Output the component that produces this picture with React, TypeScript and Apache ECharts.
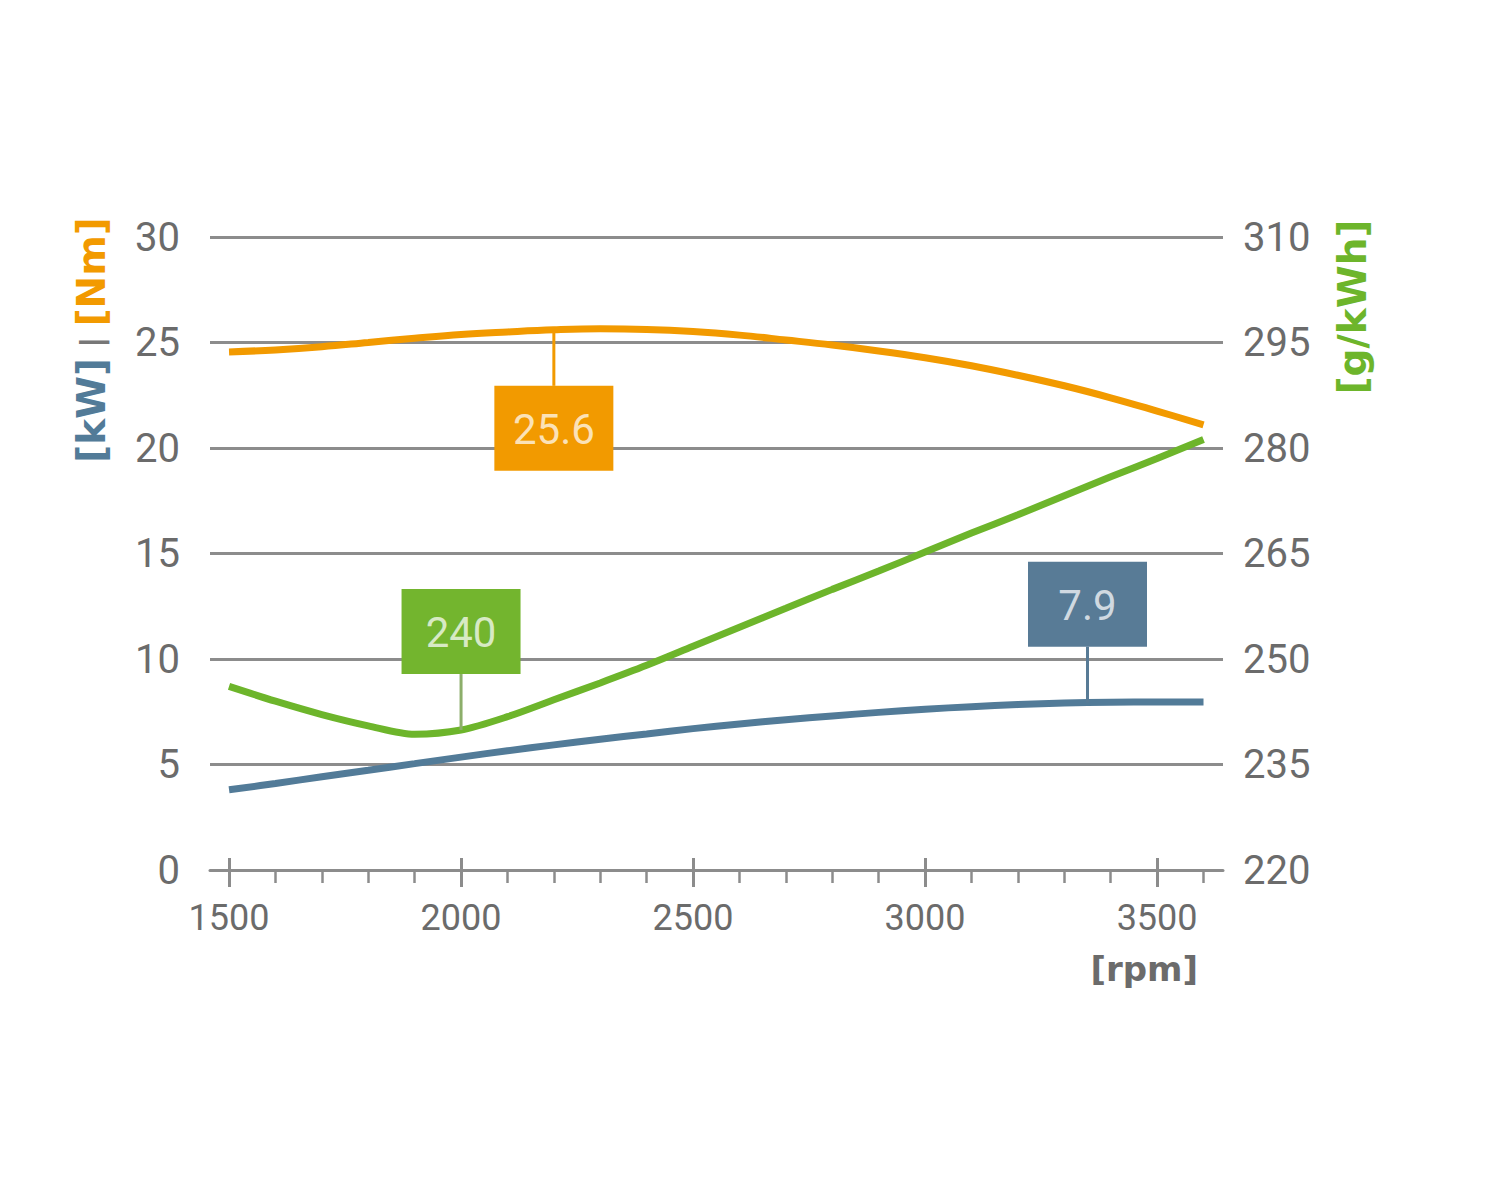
import React, { useEffect, useRef } from "react";
import * as echarts from "echarts";

// ---- data ----
const rpm = [1500, 1600, 1700, 1800, 1900, 2000, 2100, 2200, 2300, 2400, 2500, 2600, 2700, 2800, 2900, 3000, 3100, 3200, 3300, 3400, 3500, 3600];
const torqueNm = [24.55, 24.65, 24.8, 25.0, 25.2, 25.38, 25.5, 25.6, 25.65, 25.62, 25.52, 25.35, 25.12, 24.88, 24.6, 24.28, 23.9, 23.45, 22.95, 22.38, 21.75, 21.1];
const powerKw = [3.8, 4.1, 4.42, 4.73, 5.04, 5.35, 5.65, 5.93, 6.2, 6.45, 6.7, 6.92, 7.12, 7.3, 7.47, 7.62, 7.74, 7.84, 7.91, 7.95, 7.96, 7.96];
const consumption = [246.1, 244.0, 242.1, 240.5, 239.3, 239.9, 241.8, 244.2, 246.6, 249.1, 251.8, 254.5, 257.2, 259.9, 262.5, 265.2, 267.9, 270.5, 273.2, 275.9, 278.5, 281.2];

const majorRpm = [1500, 2000, 2500, 3000, 3500];
const minorRpm = [1600, 1700, 1800, 1900, 2100, 2200, 2300, 2400, 2600, 2700, 2800, 2900, 3100, 3200, 3300, 3400, 3600];

const leftMin = 0, leftMax = 30, leftStep = 5;
const rightMin = 220, rightMax = 310, rightStep = 15;

// callouts: series index, rpm position, label text
const calloutSeries = [0, 1, 2];
const calloutRpm = [2200, 2000, 3350];
const calloutText = ["25.6", "240", "7.9"];

// ---- styles ----
const ORANGE = "#F29A00";
const GREEN = "#6DB52B";
const BLUE = "#527B98";
const GRID = "#8c8c8c";
const TXT = "#6b6b6b";
const NUM_FONT = "Roboto";
const NAME_FONT = "DejaVu Sans";

function interp(xs: number[], ys: number[], x: number) {
  for (let i = 0; i < xs.length - 1; i++) {
    if (x >= xs[i] && x <= xs[i + 1]) {
      const t = (x - xs[i]) / (xs[i + 1] - xs[i]);
      return ys[i] + t * (ys[i + 1] - ys[i]);
    }
  }
  return ys[ys.length - 1];
}

export default function App() {
  const ref = useRef<HTMLDivElement>(null);
  useEffect(() => {
    if (!ref.current) return;
    const chart = echarts.init(ref.current, undefined, { renderer: "svg" });
    const xMin = 1459, xMax = 3642;
    const seriesData = [torqueNm, consumption, powerKw];
    const boxColors = [ORANGE, "#73B52E", "#587B96"];
    const stemColors = [ORANGE, "#8CAE6A", "#587B96"];
    const below = [true, false, false];

    const option: any = {
      animation: false,
      backgroundColor: "#ffffff",
      grid: { left: 210, right: 277, top: 237, bottom: 330 },
      xAxis: [
        {
          type: "value", min: xMin, max: xMax, position: "bottom",
          axisLine: { show: true, onZero: false, lineStyle: { color: GRID, width: 3 } },
          axisTick: { show: true, customValues: majorRpm, length: 17, lineStyle: { color: GRID, width: 3 } },
          axisLabel: {
            show: true, customValues: majorRpm, color: TXT, fontSize: 36, fontFamily: NUM_FONT, margin: 30,
            formatter: (v: number) => String(v),
          },
          splitLine: { show: false },
        },
        {
          type: "value", min: xMin, max: xMax, position: "bottom",
          axisLine: { show: false },
          axisTick: { show: true, inside: true, customValues: majorRpm, length: 12, lineStyle: { color: GRID, width: 3 } },
          axisLabel: { show: false },
          splitLine: { show: false },
        },
        {
          type: "value", min: xMin, max: xMax, position: "bottom",
          axisLine: { show: false },
          axisTick: { show: true, customValues: minorRpm, length: 13, lineStyle: { color: GRID, width: 2.5 } },
          axisLabel: { show: false },
          splitLine: { show: false },
        },
      ],
      yAxis: [
        {
          type: "value", min: leftMin, max: leftMax, interval: leftStep, position: "left",
          axisLine: { show: false }, axisTick: { show: false },
          axisLabel: { color: TXT, fontSize: 40, fontFamily: NUM_FONT, margin: 30 },
          splitLine: { show: true, lineStyle: { color: GRID, width: 3 } },
        },
        {
          type: "value", min: rightMin, max: rightMax, interval: rightStep, position: "right",
          axisLine: { show: false }, axisTick: { show: false },
          axisLabel: { color: TXT, fontSize: 40, fontFamily: NUM_FONT, margin: 20 },
          splitLine: { show: false },
        },
      ],
      series: [
        {
          name: "Torque", type: "line", xAxisIndex: 0, yAxisIndex: 0, smooth: 0.4, symbol: "none",
          data: rpm.map((r, i) => [r, torqueNm[i]]),
          lineStyle: { color: ORANGE, width: 7 }, z: 4,
        },
        {
          name: "Consumption", type: "line", xAxisIndex: 0, yAxisIndex: 1, smooth: 0.3, symbol: "none",
          data: rpm.map((r, i) => [r, consumption[i]]),
          lineStyle: { color: GREEN, width: 7 }, z: 3,
        },
        {
          name: "Power", type: "line", xAxisIndex: 0, yAxisIndex: 0, smooth: 0.4, symbol: "none",
          data: rpm.map((r, i) => [r, powerKw[i]]),
          lineStyle: { color: BLUE, width: 7 }, z: 2,
        },
      ],
    };
    chart.setOption(option);

    const BOX_W = 119, BOX_H = 85, GAP = 56;
    const els: any[] = [];
    calloutSeries.forEach((s, k) => {
      const r = calloutRpm[k];
      const v = interp(rpm, seriesData[s], r);
      const p = chart.convertToPixel({ seriesIndex: s }, [r, v]) as number[];
      if (!p) return;
      const top = below[s] ? p[1] + GAP : p[1] - GAP - BOX_H;
      const stemEnd = below[s] ? top : top + BOX_H;
      els.push({
        type: "line", z: 20,
        shape: { x1: p[0], y1: p[1], x2: p[0], y2: stemEnd },
        style: { stroke: stemColors[s], lineWidth: 3 },
      });
      els.push({
        type: "rect", z: 21,
        shape: { x: p[0] - BOX_W / 2, y: top, width: BOX_W, height: BOX_H },
        style: { fill: boxColors[s] },
      });
      els.push({
        type: "text", z: 22, x: p[0], y: top + BOX_H / 2 + 1,
        style: {
          text: calloutText[k], fill: "rgba(255,255,255,0.72)", fontSize: 42, fontFamily: NUM_FONT,
          align: "center", verticalAlign: "middle",
        },
      });
    });

    els.push({
      type: "text", x: 91, y: 340, rotation: Math.PI / 2, z: 30,
      style: {
        text: "{b|[kW]}{s| | }{o|[Nm]}",
        align: "center", verticalAlign: "middle",
        rich: {
          b: { fill: BLUE, fontSize: 39, fontWeight: "bold", fontFamily: NAME_FONT },
          s: { fill: "#777", fontSize: 30, fontWeight: "bold", fontFamily: NAME_FONT },
          o: { fill: ORANGE, fontSize: 39, fontWeight: "bold", fontFamily: NAME_FONT },
        },
      },
    });
    els.push({
      type: "text", x: 1352, y: 307, rotation: Math.PI / 2, z: 30,
      style: {
        text: "[g/kWh]", fill: GREEN, fontSize: 39, fontWeight: "bold", fontFamily: NAME_FONT,
        align: "center", verticalAlign: "middle",
      },
    });
    els.push({
      type: "text", x: 1198, y: 969, z: 30,
      style: {
        text: "[rpm]", fill: TXT, fontSize: 34, fontWeight: "bold", fontFamily: NAME_FONT,
        align: "right", verticalAlign: "middle",
      },
    });
    chart.setOption({ graphic: els });

    return () => chart.dispose();
  }, []);
  return <div ref={ref} style={{ position: "absolute", left: 0, top: 0, width: 1500, height: 1200 }} />;
}
